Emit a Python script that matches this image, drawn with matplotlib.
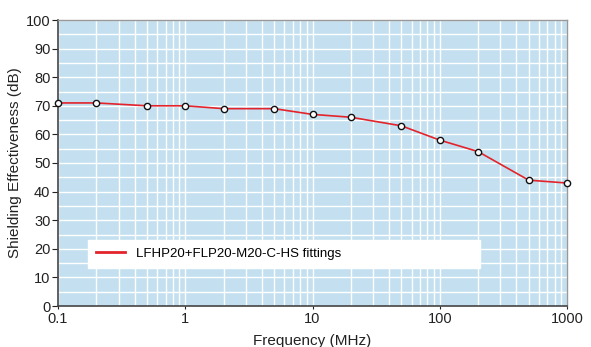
import matplotlib
matplotlib.use("Agg")
import matplotlib.pyplot as plt
from matplotlib.ticker import LogLocator, FixedLocator, NullFormatter

freq_mhz = [0.1, 0.2, 0.5, 1, 2, 5, 10, 20, 50, 100, 200, 500, 1000]
shielding_db = [71, 71, 70, 70, 69, 69, 67, 66, 63, 58, 54, 44, 43]
x_tick_labels = ["0.1", "1", "10", "100", "1000"]
series_name = "LFHP20+FLP20-M20-C-HS fittings"

plt.rcParams['font.family'] = ['Liberation Sans', 'DejaVu Sans']

fig = plt.figure(figsize=(5.91, 3.47), dpi=100)
ax = fig.add_axes([58/591, 41/347, 509/591, 286/347])
ax.set_facecolor('#c3dff0')

ax.set_xscale('log')
ax.set_xlim(0.1, 1000)
ax.set_ylim(0, 100)

ax.xaxis.set_major_locator(FixedLocator([0.1, 1, 10, 100, 1000]))
ax.set_xticklabels(x_tick_labels)
ax.xaxis.set_minor_locator(LogLocator(base=10, subs=range(2, 10)))
ax.xaxis.set_minor_formatter(NullFormatter())
ax.set_yticks(range(0, 101, 10))
ax.set_yticks(range(5, 100, 10), minor=True)

ax.grid(True, which='both', color='white', linewidth=1.0)
ax.set_axisbelow(True)

ax.tick_params(axis='both', which='major', labelsize=10.5, colors='#222222', length=4, width=0.8, direction='out')
ax.tick_params(axis='both', which='minor', length=0)
ax.tick_params(axis='x', which='major', length=2, pad=2)
ax.tick_params(axis='y', which='major', pad=1.5)

for s in ['left', 'bottom']:
    ax.spines[s].set_color('#444444')
    ax.spines[s].set_linewidth(1.2)
for s in ['top', 'right']:
    ax.spines[s].set_color('#999999')
    ax.spines[s].set_linewidth(1.0)

ax.plot(freq_mhz, shielding_db, color='#e3242b', linewidth=1.2, zorder=3, label=series_name)
ax.plot(freq_mhz, shielding_db, linestyle='none', marker='o', markersize=4.5,
        markerfacecolor='white', markeredgecolor='#111111', markeredgewidth=1.0,
        zorder=4, clip_on=False)

leg = ax.legend(loc='center left', bbox_to_anchor=(0.059, 0.133, 0.77, 0.098), mode='expand',
                frameon=True, fancybox=False, fontsize=9.5, handlelength=2.2,
                borderaxespad=0, borderpad=0.6)
leg.get_frame().set_facecolor('white')
leg.get_frame().set_edgecolor('white')
leg.get_frame().set_alpha(1)
leg.get_lines()[0].set_linewidth(2)

ax.set_xlabel('Frequency (MHz)', fontsize=11, color='#222222', labelpad=6)
ax.set_ylabel('Shielding Effectiveness (dB)', fontsize=11, color='#222222', labelpad=3)

fig.savefig('out.png', dpi=100)
